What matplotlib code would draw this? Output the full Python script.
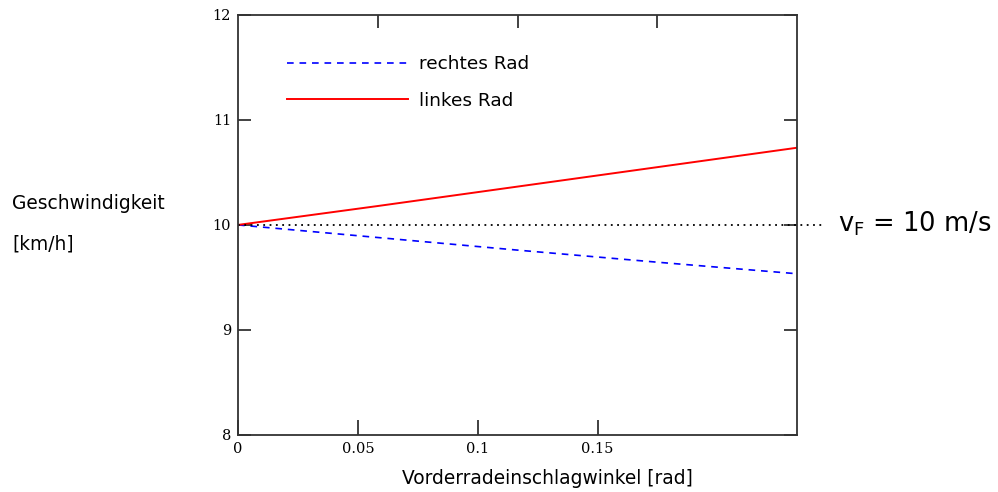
import matplotlib
matplotlib.use('Agg')
import matplotlib.pyplot as plt

# Vorderradeinschlagwinkel [rad] und Radgeschwindigkeiten [km/h]
angle = [0.0, 0.05, 0.1, 0.15, 0.2]
v_rechts = [10.0, 9.88, 9.76, 9.645, 9.535]
v_links = [10.0, 10.18, 10.365, 10.55, 10.735]
v_F = 10

y_ticks = [8, 9, 10, 11, 12]
x_ticks_bottom = [0, 0.05, 0.1, 0.15]
x_tick_labels = ['0', '0.05', '0.1', '0.15']

fig = plt.figure(figsize=(9.98, 4.92), dpi=100)
ax = fig.add_axes([0.2385, 0.116, 0.5601, 0.8537])

ax.plot(angle, v_rechts, color='blue', ls=(0, (4, 3.5)), lw=1.2, label='rechtes Rad')
ax.plot(angle, v_links, color='red', lw=1.4, label='linkes Rad')
ax.plot([0, 0.21], [v_F, v_F], color='black', ls=(0, (1, 2.5)), lw=1.3, clip_on=False)

ax.set_xlim(0, 0.2)
ax.set_ylim(8, 12)

for s in ax.spines.values():
    s.set_linewidth(1.3)
    s.set_color('#333333')

# Achsen: oben Teilstriche, unten beschriftete Skala
ax.set_xticks([0.05, 0.1, 0.15])
ax.tick_params(axis='x', which='both', bottom=False, labelbottom=False, top=True,
               direction='in', length=9.5, width=1.3, color='#333333')
ax.set_yticks(y_ticks)
ax.tick_params(axis='y', direction='in', length=9.5, width=1.3, color='#333333', right=True,
               labelsize=10.5, pad=5)
for lab in ax.get_yticklabels():
    lab.set_family('DejaVu Serif')

k = 0.2332 / 0.2
sec = ax.secondary_xaxis('bottom', functions=(lambda x: x * k, lambda x: x / k))
sec.set_xticks(x_ticks_bottom)
sec.set_xticklabels(x_tick_labels, family='DejaVu Serif', fontsize=10.5)
sec.tick_params(direction='in', length=10.5, width=1.3, color='#333333', pad=5)
sec.spines['bottom'].set_visible(False)

fig.text(0.549, 0.028, 'Vorderradeinschlagwinkel [rad]', ha='center', va='center', fontsize=13.4)
fig.text(0.012, 0.587, 'Geschwindigkeit', ha='left', va='center', fontsize=13.4)
fig.text(0.012, 0.504, '[km/h]', ha='left', va='center', fontsize=13.4)
fig.text(0.84, 0.545, r'v$_{\mathrm{F}}$ = 10 m/s', ha='left', va='center', fontsize=18.5)

leg = ax.legend(loc='upper left', bbox_to_anchor=(0.057, 0.944), frameon=False, fontsize=13.3,
                handlelength=6.55, handletextpad=0.6, labelspacing=1.0)

fig.savefig('out.png', dpi=100, facecolor='white')
